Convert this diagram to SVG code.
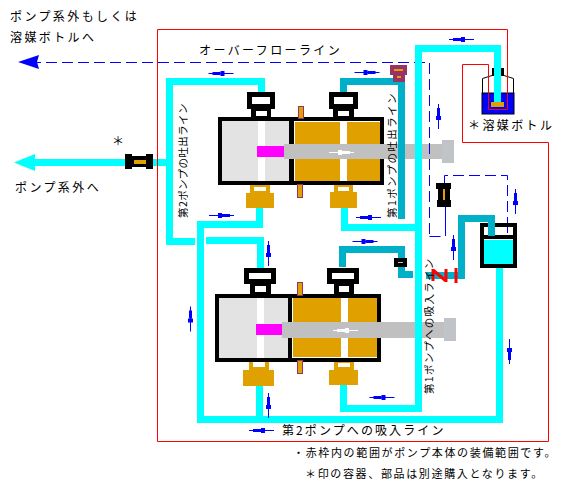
<svg xmlns="http://www.w3.org/2000/svg" width="567" height="486" viewBox="0 0 567 486">
<style>
text{font-family:"Noto Sans CJK JP","Liberation Sans",sans-serif;fill:#000;font-size:12px;letter-spacing:2.4px}
.v{font-size:10.5px;letter-spacing:.4px}
.n{font-size:11px;letter-spacing:1.65px}
.c{fill:none;stroke:#0ff;stroke-width:7}
.t{fill:none;stroke:#00afc8;stroke-width:7}
.d{fill:none;stroke:#00f;stroke-width:1;stroke-dasharray:11 5}
.s{fill:none;stroke:#00f;stroke-width:1}
.k{fill:#000}.w{fill:#fff}.o{fill:#e0a000}.g{fill:#e3e3e3}.r{fill:#c0c0c0}.f{fill:#c0c4c8}.m{fill:#f0f}
.b{fill:#e0a000;stroke:#993366;stroke-width:1}
.p{fill:#993366}
.ar{color:#00f}.aw{color:#fff}
</style>
<defs>
<g id="a"><rect x="-12.5" y="-.5" width="25" height="1" fill="currentColor"/><rect x="-8.5" y="-1.5" width="8" height="3" fill="currentColor"/><rect x="-.5" y="-2.5" width="4" height="5" fill="currentColor"/></g>
</defs>
<g id="pump-2-upper" shape-rendering="crispEdges">
<rect class="k" x="218" y="117" width="166" height="68"/>
<rect class="g" x="222" y="121" width="67" height="60"/>
<rect class="w" x="258" y="121" width="7" height="60"/>
<rect class="w" x="294" y="121" width="86" height="60"/>
<rect class="o" x="295" y="122" width="85" height="59"/>
<rect class="w" x="340" y="121" width="7" height="60"/>
<rect class="r" x="284" y="144" width="158" height="15"/>
<rect class="f" x="442" y="140" width="12" height="23"/>
<rect class="m" x="257" y="146" width="27" height="11"/>
<use href="#a" class="aw" transform="translate(341.5,152.5) scale(-1,1)"/>
<rect class="k" x="247" y="92" width="28" height="17"/><rect class="w" x="252" y="97" width="18" height="7"/>
<rect class="k" x="251" y="109" width="20" height="8"/><rect class="w" x="256" y="111" width="11" height="5"/>
<rect class="k" x="329" y="92" width="29" height="17"/><rect class="w" x="334" y="97" width="19" height="7"/>
<rect class="k" x="333" y="109" width="21" height="8"/><rect class="w" x="338" y="111" width="11" height="5"/>
<rect class="o" x="250" y="185" width="20" height="8"/><rect class="w" x="254" y="187" width="12" height="4"/><rect class="o" x="246" y="193" width="28" height="15"/>
<rect class="o" x="334" y="185" width="19" height="7"/><rect class="w" x="338" y="187" width="11" height="4"/><rect class="o" x="330" y="192" width="27" height="16"/>
<rect class="b" x="298.500" y="106.500" width="5" height="12"/>
<rect class="b" x="297.500" y="184.500" width="5" height="13"/>
</g>
<g id="pump-1-lower" shape-rendering="crispEdges">
<rect class="k" x="215" y="294" width="166" height="68"/>
<rect class="g" x="219" y="298" width="69" height="60"/>
<rect class="w" x="257" y="298" width="7" height="60"/>
<rect class="w" x="292" y="298" width="85" height="60"/>
<rect class="o" x="293" y="298" width="84" height="59"/>
<rect class="w" x="341" y="298" width="7" height="59"/>
<rect class="r" x="282" y="322" width="162" height="16"/>
<rect class="f" x="444" y="318" width="12" height="23"/>
<rect class="m" x="256" y="324" width="26" height="11"/>
<use href="#a" class="aw" transform="translate(345.500,330.500)"/>
<rect class="k" x="244" y="268" width="32" height="16"/><rect class="w" x="249" y="273" width="22" height="6"/>
<rect class="k" x="250" y="284" width="21" height="10"/><rect class="w" x="255" y="286" width="11" height="6"/>
<rect class="k" x="327" y="268" width="32" height="16"/><rect class="w" x="332" y="273" width="22" height="6"/>
<rect class="k" x="334" y="284" width="20" height="10"/><rect class="w" x="339" y="286" width="10" height="6"/>
<rect class="o" x="249" y="362" width="20" height="8"/><rect class="w" x="253" y="362" width="12" height="5"/><rect class="o" x="243" y="370" width="31" height="16"/>
<rect class="o" x="334" y="362" width="20" height="8"/><rect class="w" x="338" y="363" width="12" height="4"/><rect class="o" x="329" y="370" width="29" height="15"/>
<rect class="b" x="297.500" y="282.500" width="5" height="13"/>
<rect class="b" x="297.500" y="360.500" width="5" height="13"/>
</g>
<g id="connectors">
<path class="d" d="M30,62.500H429.500V234.500"/>
<path class="d" d="M429.500,236.500H445.500"/>
<path class="s" d="M445.500,207V236"/>
<path class="d" d="M444.500,183V175.500H507.500V233"/>
<polygon points="18,62 30,58 39,55 37,62 39,69 30,66" fill="#00f"/>
<path class="c" d="M125,162.500H30"/>
<polygon points="14,162.500 35,154 35,171" fill="#0ff"/>
<path class="c" d="M153,162.500H169"/>
<path class="c" d="M195,241.500H169.500V81.500H261.500V92"/>
<path class="c" d="M499.500,268V419.500H200.500V224.500H259.500V208"/>
<path class="c" d="M206,240.500H260.500V268"/>
<path class="c" d="M259.500,386V416"/>
<path class="c" d="M344.500,208V227.500H418"/>
<path class="c" d="M343.500,385V408.500H418.500V48.500H497.500V102"/>
<path class="t" d="M343.500,92V81.500H401.500V219"/>
<path class="t" d="M342.500,267V249.500H401.500V274.500H413"/>
<path class="t" d="M426,275.500H461.500V218.500H491.500V236"/>
<g class="ar">
<use href="#a" transform="translate(221,73.500)"/>
<use href="#a" transform="translate(221.500,215.500) scale(-1,1)"/>
<use href="#a" transform="translate(461.500,39.500)"/>
<use href="#a" transform="translate(367,72.500) scale(-1,1)"/>
<use href="#a" transform="translate(368.500,217.500)"/>
<use href="#a" transform="translate(365,241.500) scale(-1,1)"/>
<use href="#a" transform="translate(382,397.500)"/>
<use href="#a" transform="translate(261.500,430.500)"/>
<use href="#a" transform="translate(438.500,116.500) rotate(90)"/>
<use href="#a" transform="translate(515.500,201.500) rotate(90)"/>
<use href="#a" transform="translate(453.500,247.500) rotate(90)"/>
<use href="#a" transform="translate(509.500,351.500) rotate(-90)"/>
<use href="#a" transform="translate(190.500,319) rotate(90)"/>
<use href="#a" transform="translate(268.500,253.500) rotate(90)"/>
<use href="#a" transform="translate(268.500,405.500) rotate(90)"/>
</g>
</g>
<g id="filter-outlet" shape-rendering="crispEdges">
<rect class="k" x="125" y="154" width="7" height="15"/><rect class="k" x="146" y="154" width="7" height="15"/>
<rect class="k" x="132" y="156" width="14" height="11"/>
<rect class="o" x="134" y="160" width="12" height="4"/>
</g>
<g id="purge-valve" shape-rendering="crispEdges">
<rect class="p" x="390" y="65" width="17" height="10"/><rect class="p" x="393" y="75" width="12" height="7"/>
<rect class="o" x="394" y="69" width="9" height="2"/><rect class="o" x="397" y="76" width="4" height="2"/>
</g>
<g id="filter-overflow" shape-rendering="crispEdges">
<rect class="k" x="436" y="183" width="15" height="6"/><rect class="k" x="438" y="189" width="12" height="11"/><rect class="k" x="437" y="200" width="14" height="7"/>
<rect class="o" x="443" y="189" width="2" height="11"/>
</g>
<g id="check-valve" shape-rendering="crispEdges">
<rect class="k" x="394" y="258" width="13" height="9"/><rect x="398" y="262" width="5" height="1" fill="#c0c0c0"/>
</g>
<g id="red-valve">
<path d="M433,269V281M433,270L446,281M446,269V282M456,268V283" fill="none" stroke="#f00" stroke-width="3"/>
</g>
<g id="tank" shape-rendering="crispEdges">
<rect class="k" x="480" y="223" width="37" height="45"/>
<rect class="w" x="484" y="227" width="29" height="8"/>
<rect class="w" x="484" y="239" width="29" height="1"/>
<rect x="484" y="240" width="29" height="24" fill="#0ff"/>
<rect x="488" y="222" width="7" height="14" fill="#00afc8"/>
<rect x="507" y="227" width="1" height="6" fill="#00f"/>
</g>
<g id="solvent-bottle">
<rect x="492" y="68" width="12" height="8" fill="#000"/>
<path d="M482.500,78.500L492,75.500H504L513.500,78.500V113.500H482.500Z" fill="#fff" stroke="#000" stroke-width="1"/>
<rect x="482" y="93" width="32" height="21" fill="#00f" stroke="#000" stroke-width="1"/>
<rect x="494" y="68" width="7" height="34" fill="#0ff"/>
<rect x="491" y="102" width="13" height="5" fill="#e0a000"/>
</g>
<g id="frame">
<path d="M157.500,29.500H507.500V109.500H488.500V64.500H462.500V142.500H548.500V441.500H157.500Z" fill="none" stroke="#f00" stroke-width="1"/>
</g>
<g id="labels">
<text x="10" y="21">ポンプ系外もしくは</text>
<text x="10" y="42">溶媒ボトルへ</text>
<text x="199" y="55">オーバーフローライン</text>
<text x="112" y="146">＊</text>
<text x="15" y="192">ポンプ系外へ</text>
<text x="468" y="130">＊溶媒ボトル</text>
<text class="v" transform="translate(187,218) rotate(-90)">第2ポンプの吐出ライン</text>
<text class="v" transform="translate(396,218) rotate(-90)" style="letter-spacing:1.4px">第1ポンプの吐出ライン</text>
<text class="v" transform="translate(433,394) rotate(-90)" style="letter-spacing:1.3px">第1ポンプへの吸入ライン</text>
<text x="282" y="435" style="letter-spacing:2.1px">第2ポンプへの吸入ライン</text>
<text class="n" x="293" y="457">・赤枠内の範囲がポンプ本体の装備範囲です。</text>
<text class="n" x="305" y="478">＊印の容器、部品は別途購入となります。</text>
</g>
</svg>
